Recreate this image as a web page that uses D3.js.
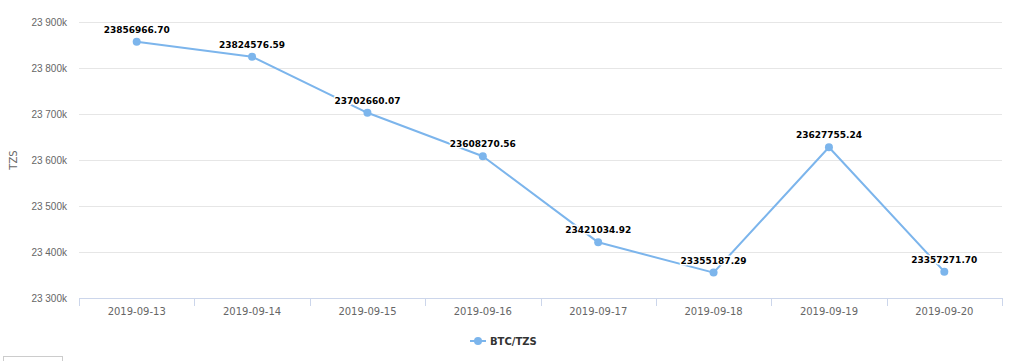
<!DOCTYPE html>
<html>
<head>
<meta charset="utf-8">
<script src="https://cdn.jsdelivr.net/npm/d3@7"></script>
<style>
  body { margin: 0; background: #fff; }
  svg { font-family: "DejaVu Sans", Verdana, sans-serif; display: block; }
  .grid line { stroke: #e6e6e6; }
  .axis text { fill: #666; font-size: 10px; }
  .label { font-size: 9px; font-weight: bold; fill: #000; stroke: #fff; stroke-width: 3px; paint-order: stroke; stroke-linejoin: round; }
</style>
</head>
<body>
<svg id="chart"></svg>
<script>
const dates = ['2019-09-13', '2019-09-14', '2019-09-15', '2019-09-16', '2019-09-17', '2019-09-18', '2019-09-19', '2019-09-20'];
const values = [23856966.70, 23824576.59, 23702660.07, 23608270.56, 23421034.92, 23355187.29, 23627755.24, 23357271.70];
const yTicks = [23300000, 23400000, 23500000, 23600000, 23700000, 23800000, 23900000];
const seriesName = 'BTC/TZS';
const unit = 'TZS';

const width = 1024, height = 361;
const margin = { top: 22, right: 22, bottom: 63, left: 79 };
const innerW = width - margin.left - margin.right;
const innerH = height - margin.top - margin.bottom;
const color = '#7cb5ec';

const svg = d3.select('#chart').attr('width', width).attr('height', height);
const chart = svg.append('g').attr('transform', `translate(${margin.left},${margin.top})`);

const xScale = d3.scaleBand().domain(dates).range([0, innerW]);
const yScale = d3.scaleLinear().domain([23300000, 23900000]).range([innerH, 0]);

// grid lines
chart.append('g').attr('class', 'grid')
  .selectAll('line')
  .data(yTicks.slice(1))
  .join('line')
  .attr('x1', 0).attr('x2', innerW)
  .attr('y1', d => Math.round(yScale(d)) + 0.5)
  .attr('y2', d => Math.round(yScale(d)) + 0.5);

// y axis labels
const fmt = d => {
  const k = d / 1000;
  return String(k).replace(/\B(?=(\d{3})+(?!\d))/g, ' ') + 'k';
};
const yAxis = d3.axisLeft(yScale).tickValues(yTicks).tickFormat(fmt).tickSize(0).tickPadding(12);
chart.append('g').attr('class', 'axis').call(yAxis)
  .call(g => g.select('.domain').remove());

// x axis
const xAxisG = chart.append('g').attr('class', 'axis')
  .attr('transform', `translate(0,${innerH})`);
xAxisG.append('line')
  .attr('x1', 0).attr('x2', innerW)
  .attr('y1', 0.5).attr('y2', 0.5)
  .attr('stroke', '#ccd6eb');
const bounds = dates.map(d => xScale(d)).concat([innerW]);
xAxisG.selectAll('.tickmark')
  .data(bounds)
  .join('line')
  .attr('class', 'tickmark')
  .attr('x1', d => Math.round(d) + 0.5).attr('x2', d => Math.round(d) + 0.5)
  .attr('y1', 0).attr('y2', 8)
  .attr('stroke', '#ccd6eb');
xAxisG.selectAll('.xlabel')
  .data(dates)
  .join('text')
  .attr('class', 'xlabel')
  .attr('x', d => xScale(d) + xScale.bandwidth() / 2)
  .attr('y', 17)
  .attr('text-anchor', 'middle')
  .text(d => d);

// y axis title
svg.append('text')
  .attr('transform', `translate(17,${margin.top + innerH / 2}) rotate(-90)`)
  .attr('text-anchor', 'middle')
  .attr('fill', '#666')
  .attr('font-size', 10)
  .text(unit);

// line
const line = d3.line()
  .x((d, i) => xScale(dates[i]) + xScale.bandwidth() / 2)
  .y(d => yScale(d));
chart.append('path')
  .datum(values)
  .attr('fill', 'none')
  .attr('stroke', color)
  .attr('stroke-width', 2)
  .attr('stroke-linejoin', 'round')
  .attr('d', line);

chart.selectAll('.dot')
  .data(values)
  .join('circle')
  .attr('class', 'dot')
  .attr('cx', (d, i) => xScale(dates[i]) + xScale.bandwidth() / 2)
  .attr('cy', d => yScale(d))
  .attr('r', 4)
  .attr('fill', color);

chart.selectAll('.label')
  .data(values)
  .join('text')
  .attr('class', 'label')
  .attr('x', (d, i) => xScale(dates[i]) + xScale.bandwidth() / 2)
  .attr('y', d => yScale(d) - 9)
  .attr('text-anchor', 'middle')
  .text(d => d.toFixed(2));

// legend
const legend = svg.append('g').attr('transform', `translate(470,341)`);
legend.append('line')
  .attr('x1', 0).attr('x2', 16).attr('y1', 0).attr('y2', 0)
  .attr('stroke', color).attr('stroke-width', 2);
legend.append('circle').attr('cx', 8).attr('cy', 0).attr('r', 4).attr('fill', color);
legend.append('text')
  .attr('x', 20).attr('y', 4)
  .attr('font-size', 10).attr('font-weight', 'bold').attr('fill', '#333')
  .text(seriesName);

// partially visible button box at bottom left
svg.append('rect')
  .attr('x', 3.5).attr('y', 356.5).attr('width', 59).attr('height', 10)
  .attr('fill', '#fff').attr('stroke', '#ccc');
</script>
</body>
</html>
